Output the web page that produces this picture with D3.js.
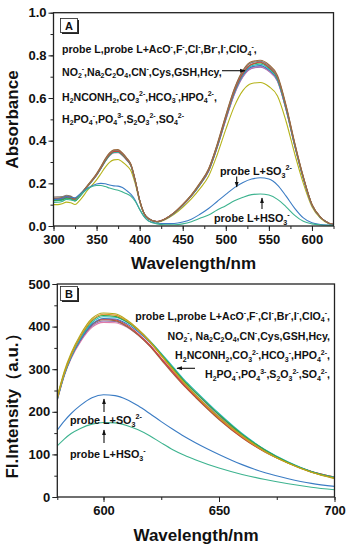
<!DOCTYPE html>
<html><head><meta charset="utf-8">
<script src="https://cdn.jsdelivr.net/npm/d3@7"></script>
<style>
body{margin:0;background:#fff}
svg{display:block}
text{font-family:"Liberation Sans",Arial,sans-serif;font-weight:bold;fill:#111}
</style>
</head><body>
<svg id="chart" width="353" height="550"></svg>
<script>
// ---------- Panel A: absorbance data ----------
const absWavelengths = [300,305,310,315,320,325,330,340,350,355,360,365,370,375,380,385,390,395,400,405,410,420,430,440,450,460,470,480,490,500,510,520,530,540,550,560,570,580,590,600,610,620,625];
const absBrown  = [.13,.131,.133,.141,.138,.127,.144,.193,.246,.279,.315,.343,.357,.358,.343,.319,.289,.213,.122,.061,.036,.02,.034,.063,.101,.146,.202,.268,.384,.52,.645,.731,.771,.777,.756,.706,.566,.39,.231,.102,.041,.012,.007];
const absGray   = [.136,.137,.138,.144,.14,.13,.146,.192,.244,.277,.312,.34,.354,.355,.34,.317,.287,.211,.121,.061,.035,.02,.034,.062,.1,.145,.2,.266,.381,.516,.641,.726,.766,.772,.75,.7,.561,.386,.229,.1,.04,.012,.007];
const absRed    = [.128,.128,.13,.137,.134,.124,.141,.19,.241,.273,.308,.336,.35,.351,.336,.313,.284,.209,.12,.06,.035,.021,.035,.062,.1,.144,.198,.263,.377,.51,.634,.718,.758,.768,.745,.697,.558,.384,.228,.1,.041,.013,.008];
const absGreen  = [.12,.121,.123,.131,.128,.118,.137,.189,.24,.272,.306,.334,.348,.349,.334,.312,.283,.209,.12,.06,.035,.02,.034,.061,.099,.143,.197,.262,.376,.51,.634,.718,.757,.764,.742,.693,.555,.382,.226,.099,.04,.012,.007];
const absTeal   = [.118,.119,.121,.129,.126,.117,.136,.188,.238,.27,.303,.33,.345,.346,.332,.31,.281,.208,.119,.06,.035,.02,.034,.061,.098,.142,.195,.26,.373,.506,.628,.712,.751,.758,.737,.688,.551,.379,.225,.099,.04,.012,.007];
const absBlue   = [.122,.123,.125,.133,.13,.12,.138,.189,.239,.271,.305,.332,.347,.348,.333,.311,.282,.208,.119,.06,.035,.02,.033,.06,.097,.141,.194,.258,.37,.502,.624,.707,.746,.752,.731,.683,.547,.377,.224,.098,.04,.012,.007];
const absPink   = [.125,.126,.128,.135,.132,.122,.139,.188,.237,.269,.302,.329,.343,.344,.33,.308,.28,.207,.119,.06,.035,.02,.033,.06,.097,.14,.193,.256,.368,.499,.62,.703,.742,.748,.727,.68,.545,.376,.223,.098,.04,.012,.007];
const absPurple = [.13,.13,.132,.139,.136,.126,.142,.19,.24,.272,.306,.334,.35,.351,.336,.313,.284,.21,.12,.06,.035,.021,.034,.061,.098,.141,.194,.257,.368,.498,.618,.7,.739,.745,.725,.678,.544,.375,.222,.098,.04,.012,.007];
const absOlive  = [.1,.1,.104,.112,.109,.101,.118,.17,.216,.245,.275,.298,.31,.312,.3,.283,.258,.196,.115,.058,.034,.019,.031,.055,.088,.127,.175,.233,.334,.453,.562,.636,.668,.673,.654,.61,.49,.338,.2,.09,.036,.011,.006];
const absSO3    = [.125,.126,.13,.138,.135,.132,.147,.178,.197,.2,.198,.192,.188,.187,.18,.166,.148,.12,.078,.045,.025,.013,.011,.012,.019,.032,.055,.082,.115,.148,.18,.204,.22,.226,.22,.192,.14,.083,.038,.015,.007,.004,.003];
const absHSO3   = [.11,.111,.115,.125,.122,.12,.14,.175,.19,.19,.185,.178,.172,.168,.16,.151,.139,.115,.078,.045,.024,.01,.006,.006,.01,.02,.036,.052,.075,.095,.118,.135,.147,.15,.145,.125,.09,.05,.022,.01,.005,.003,.002];
const absXTicks = [300,350,400,450,500,550,600];
const absYTicks = [0.0,0.2,0.4,0.6,0.8,1.0];

// ---------- Panel B: fluorescence data ----------
const flWavelengths = [580,583,586,590,595,600,605,610,615,620,625,630,635,640,650,660,670,680,690,700];
const flOlive  = [236,295,338,381,419,432,430,416,394,366,333,300,268,239,187,144,107,79,58,43];
const flOrange = [230,289,332,376,415,429,427,414,392,364,331,298,266,238,186,142,106,79,58,44];
const flGreen  = [233,291,334,376,413,426,424,412,392,366,335,303,272,245,193,147,110,81,59,45];
const flCyan   = [228,286,329,372,409,423,422,411,392,367,337,306,275,248,196,149,111,82,60,46];
const flBlue   = [229,286,328,369,405,419,418,407,388,363,333,302,271,244,193,147,110,81,59,45];
const flRed    = [231,288,330,370,405,418,416,404,383,357,325,293,262,235,184,140,106,80,60,47];
const flBrown  = [234,290,331,370,404,416,414,401,380,354,322,290,260,233,182,139,105,80,60,47];
const flPurple = [230,287,328,367,401,413,412,401,381,356,325,294,264,238,188,144,108,80,59,45];
const flPink   = [227,284,325,364,398,410,409,399,380,355,325,295,265,239,189,145,109,81,59,45];
const flSO3    = [157,178,196,215,233,240,238,229,214,196,177,159,142,127,100,76,57,43,32,25];
const flHSO3   = [120,136,149,161,171,175,174,168,158,144,127,111,98,87,68,53,41,31,23,17];
const flXTicks = [600,650,700];
const flYTicks = [0,100,200,300,400,500];

const svg = d3.select('#chart');
const FONT_TICK = 13, FONT_TITLE = 17, FONT_NOTE = 10.6, FONT_LABEL = 10.8;

function rich(g, x, y, str, size, anchor) {
  const t = g.append('text').attr('x', x).attr('y', y)
    .attr('font-size', size).attr('text-anchor', anchor || 'start');
  const parts = str.split(/(\^\{[^}]*\}|_\{[^}]*\})/g).filter(s => s.length);
  let cur = 0;
  parts.forEach(p => {
    let shift = 0, txt = p, fs = size;
    if (p.startsWith('^{')) { shift = -size * 0.42; txt = p.slice(2, -1); fs = size * 0.66; }
    else if (p.startsWith('_{')) { shift = size * 0.28; txt = p.slice(2, -1); fs = size * 0.66; }
    t.append('tspan').attr('dy', shift - cur).attr('font-size', fs).text(txt);
    cur = shift;
  });
  return t;
}

function arrow(g, x1, y1, x2, y2) {
  g.append('line').attr('x1', x1).attr('y1', y1).attr('x2', x2).attr('y2', y2)
    .attr('stroke', '#111').attr('stroke-width', 1.1).attr('marker-end', 'url(#ah)');
}

const defs = svg.append('defs');
defs.append('marker').attr('id', 'ah').attr('viewBox', '0 0 10 10').attr('refX', 9).attr('refY', 5)
  .attr('markerWidth', 5).attr('markerHeight', 5).attr('orient', 'auto-start-reverse')
  .append('path').attr('d', 'M0,1.5 L10,5 L0,8.5 Z').attr('fill', '#111');

function panel(cfg) {
  const {left, right, top, bottom, xDomain, yDomain, xTicks, xMinor, yTicks, yMinor, yFmt, wl, series, id} = cfg;
  const x = d3.scaleLinear().domain(xDomain).range([left, right]);
  const y = d3.scaleLinear().domain(yDomain).range([bottom, top]);
  const g = svg.append('g');
  defs.append('clipPath').attr('id', 'clip' + id).append('rect')
    .attr('x', left).attr('y', top).attr('width', right - left).attr('height', bottom - top);

  const axX = g.append('g').attr('transform', `translate(0,${bottom})`);
  axX.call(d3.axisBottom(x).tickValues(xMinor).tickSize(3).tickFormat(''));
  axX.append('g').call(d3.axisBottom(x).tickValues(xTicks).tickSize(5).tickPadding(4).tickFormat(d3.format('d')));
  const axY = g.append('g').attr('transform', `translate(${left},0)`);
  axY.call(d3.axisLeft(y).tickValues(yMinor).tickSize(3).tickFormat(''));
  axY.append('g').call(d3.axisLeft(y).tickValues(yTicks).tickSize(5).tickPadding(2).tickFormat(yFmt));
  g.selectAll('.domain').remove();
  g.selectAll('.tick line').attr('stroke', '#222').attr('stroke-width', 1);
  g.selectAll('.tick text').attr('font-size', FONT_TICK).attr('fill', '#111')
    .style('font-family', '"Liberation Sans",Arial,sans-serif').style('font-weight', 'bold');

  const line = d3.line().x((d, i) => x(wl[i])).y(d => y(d)).curve(d3.curveMonotoneX);
  const lg = g.append('g').attr('clip-path', `url(#clip${id})`);
  series.forEach(s => {
    lg.append('path').attr('d', line(s.values)).attr('fill', 'none')
      .attr('stroke', s.color).attr('stroke-width', 1.1);
  });

  g.append('rect').attr('x', left).attr('y', top).attr('width', right - left).attr('height', bottom - top)
    .attr('fill', 'none').attr('stroke', '#222').attr('stroke-width', 1.3);
  return {x, y, g};
}

// ---------- Panel A ----------
const A = panel({
  id: 'A', left: 53.5, right: 333.5, top: 12.7, bottom: 226,
  xDomain: [300, 625], yDomain: [0, 1.0],
  xTicks: absXTicks, xMinor: d3.range(300, 626, 25),
  yTicks: absYTicks, yMinor: d3.range(0, 1.01, 0.1), yFmt: d3.format('.1f'),
  wl: absWavelengths,
  series: [
    {values: absOlive, color: '#b5b31a'},
    {values: absPurple, color: '#8e6bb5'},
    {values: absPink, color: '#e07aa8'},
    {values: absBlue, color: '#3a78c0'},
    {values: absTeal, color: '#2bb5b5'},
    {values: absGreen, color: '#3aa53a'},
    {values: absRed, color: '#d63a3a'},
    {values: absGray, color: '#808080'},
    {values: absBrown, color: '#9c6a3c'},
    {values: absSO3, color: '#3b7cc4'},
    {values: absHSO3, color: '#3db38f'}
  ]
});
A.g.append('text').attr('x', 193.5).attr('y', 269).attr('text-anchor', 'middle')
  .attr('font-size', FONT_TITLE).text('Wavelength/nm');
A.g.append('text').attr('transform', 'translate(18,119.5) rotate(-90)').attr('text-anchor', 'middle')
  .attr('font-size', FONT_TITLE).text('Absorbance');

function labelBox(g, x, y, letter) {
  g.append('rect').attr('x', x + 1.5).attr('y', y + 1.5).attr('width', 17).attr('height', 14).attr('fill', '#222');
  g.append('rect').attr('x', x).attr('y', y).attr('width', 17).attr('height', 14).attr('fill', '#fff')
    .attr('stroke', '#222').attr('stroke-width', 0.8);
  g.append('text').attr('x', x + 8.5).attr('y', y + 11).attr('text-anchor', 'middle')
    .attr('font-size', 11).text(letter);
}
labelBox(A.g, 60.5, 18.5, 'A');

const notesA = [
  'probe L,probe L+AcO^{-},F^{-},Cl^{-},Br^{-},I^{-},ClO_{4}^{-},',
  'NO_{2}^{-},Na_{2}C_{2}O_{4},CN^{-},Cys,GSH,Hcy,',
  'H_{2}NCONH_{2},CO_{3}^{2-},HCO_{3}^{-},HPO_{4}^{2-},',
  'H_{2}PO_{4}^{-},PO_{4}^{3-},S_{2}O_{3}^{2-},SO_{4}^{2-}'
];
const notesAy = [53, 75.5, 100.5, 122.5];
notesA.forEach((s, i) => rich(A.g, 62, notesAy[i], s, FONT_NOTE, 'start'));
arrow(A.g, 222, 70.7, 245, 70.7);
rich(A.g, 220, 175, 'probe L+SO_{3}^{2-}', FONT_LABEL, 'start');
arrow(A.g, 236.7, 176.5, 236.7, 187);
rich(A.g, 214, 222, 'probe L+HSO_{3}^{-}', FONT_LABEL, 'start');
arrow(A.g, 262, 209, 262, 198);

// ---------- Panel B ----------
const B = panel({
  id: 'B', left: 57.3, right: 334.5, top: 284, bottom: 497,
  xDomain: [580, 700], yDomain: [0, 500],
  xTicks: flXTicks, xMinor: d3.range(600, 701, 25).concat([580]),
  yTicks: flYTicks, yMinor: d3.range(0, 501, 50), yFmt: d3.format('d'),
  wl: flWavelengths,
  series: [
    {values: flPink, color: '#e07aa8'},
    {values: flPurple, color: '#8e6bb5'},
    {values: flBrown, color: '#9c6a3c'},
    {values: flRed, color: '#d63a3a'},
    {values: flBlue, color: '#3a78c0'},
    {values: flCyan, color: '#22b8c0'},
    {values: flGreen, color: '#3aa53a'},
    {values: flOrange, color: '#e0902a'},
    {values: flOlive, color: '#b5a81a'},
    {values: flSO3, color: '#3b7cc4'},
    {values: flHSO3, color: '#3db38f'}
  ]
});
B.g.append('text').attr('x', 196).attr('y', 541).attr('text-anchor', 'middle')
  .attr('font-size', FONT_TITLE).text('Wavelength/nm');
B.g.append('text').attr('transform', 'translate(18,402) rotate(-90)').attr('text-anchor', 'middle')
  .attr('font-size', FONT_TITLE).text('Fl.Intensity（a.u.）');
labelBox(B.g, 60.5, 286.5, 'B');

const notesB = [
  'probe L,probe L+AcO^{-},F^{-},Cl^{-},Br^{-},I^{-},ClO_{4}^{-},',
  'NO_{2}^{-}, Na_{2}C_{2}O_{4},CN^{-},Cys,GSH,Hcy,',
  'H_{2}NCONH_{2},CO_{3}^{2-},HCO_{3}^{-},HPO_{4}^{2-},',
  'H_{2}PO_{4}^{-},PO_{4}^{3-},S_{2}O_{3}^{2-},SO_{4}^{2-},'
];
const notesBy = [319.5, 339.5, 359, 378];
notesB.forEach((s, i) => rich(B.g, 330, notesBy[i], s, FONT_NOTE, 'end'));
arrow(B.g, 195, 368.3, 177, 368.3);
rich(B.g, 70, 424, 'probe L+SO_{3}^{2-}', FONT_LABEL, 'start');
arrow(B.g, 104, 412, 104, 399);
rich(B.g, 70, 458, 'probe L+HSO_{3}^{-}', FONT_LABEL, 'start');
arrow(B.g, 104, 443, 104, 430);
</script>
</body></html>
